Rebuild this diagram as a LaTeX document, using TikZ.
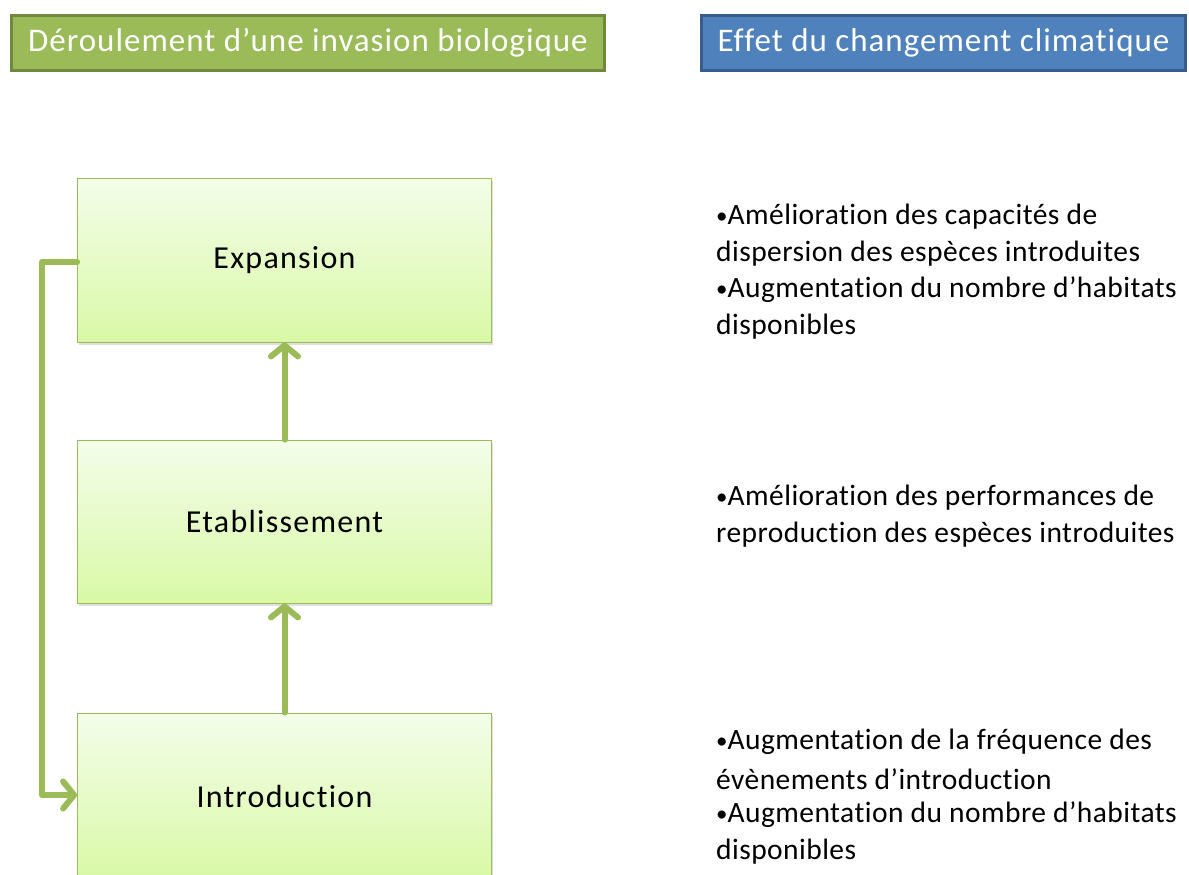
\documentclass[tikz,border=0pt]{standalone}
\usepackage{fontspec}
\setmainfont[Ligatures=NoCommon]{Carlito}
\usetikzlibrary{arrows.meta,shadows}
\definecolor{hgreen}{HTML}{9BBB59}
\definecolor{hgreenb}{HTML}{71893F}
\definecolor{hblue}{HTML}{4F81BD}
\definecolor{hblueb}{HTML}{385D8A}
\definecolor{btop}{HTML}{F4FDEA}
\definecolor{bbot}{HTML}{D9F9A6}
\definecolor{bline}{HTML}{9BBB59}
\newcommand\bul{\raisebox{1pt}{\fontsize{23}{23}\selectfont•}}
\tikzset{
  header/.style={draw=#1, line width=3pt, minimum height=55pt, text=white, font=\fontsize{33}{38}\selectfont\addfontfeatures{LetterSpace=3}, inner sep=0pt},
  stage/.style={draw=bline, line width=0.8pt, top color=btop, bottom color=bbot, minimum width=414pt, font=\fontsize{32}{38}\selectfont\addfontfeatures{LetterSpace=4}, inner sep=0pt,
    drop shadow={opacity=0.25, shadow xshift=1pt, shadow yshift=-2.5pt}},
  flow/.style={draw=hgreen, line width=6pt, line cap=round, line join=round, -{Straight Barb[length=11pt,width=27pt,line width=6pt,round]}},
  effect/.style={anchor=west, inner sep=0pt, font=\fontsize{29.5}{34}\selectfont\addfontfeatures{LetterSpace=1.5}}
}
\begin{document}
\begin{tikzpicture}[x=1pt,y=-1pt]
\useasboundingbox (0,0) rectangle (1189,875);
\node[header=hgreenb, fill=hgreen, minimum width=593pt] (h1) at (308,43) {Déroulement d’une invasion biologique};
\node[header=hblueb, fill=hblue, minimum width=484pt] (h2) at (943.5,43) {Effet du changement climatique};
\node[stage, minimum height=164pt] (exp) at (284.5,260) {Expansion};
\node[stage, minimum height=163pt] (eta) at (284.5,521.5) {Etablissement};
\node[stage, minimum height=166pt] (intro) at (284.5,796) {Introduction};
\coordinate (c1) at (42,262);
\coordinate (c2) at (42,795);
\draw[flow] (intro.north) -- (eta.south);
\draw[flow] (eta.north) -- (exp.south);
\draw[flow] (exp.west |- c1) -- (c1) -- (c2) -- (intro.west |- c2);
\node[effect] (e1) at (716,217) {\bul Amélioration des capacités de};
\node[effect] (e2) at (716,254) {dispersion des espèces introduites};
\node[effect] (e3) at (716,290) {\bul Augmentation du nombre d’habitats};
\node[effect] (e4) at (716,327) {disponibles};
\node[effect] (e5) at (716,498) {\bul Amélioration des performances de};
\node[effect] (e6) at (716,535) {reproduction des espèces introduites};
\node[effect] (e7) at (716,742) {\bul Augmentation de la fréquence des};
\node[effect] (e8) at (716,779) {évènements d’introduction};
\node[effect] (e9) at (716,815) {\bul Augmentation du nombre d’habitats};
\node[effect] (e10) at (716,852) {disponibles};
\end{tikzpicture}
\end{document}
